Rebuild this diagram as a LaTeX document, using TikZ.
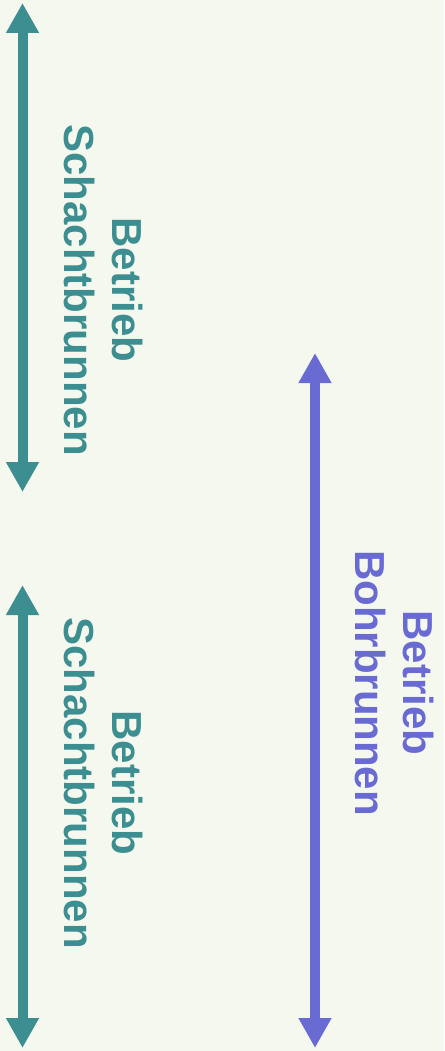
\documentclass[tikz,border=0pt]{standalone}
\usepackage{fontspec}
\setmainfont{Liberation Sans}
\usetikzlibrary{arrows.meta}
\definecolor{bgc}{RGB}{245,248,238}
\definecolor{tealc}{RGB}{61,142,145}
\definecolor{purplec}{RGB}{106,107,210}
\tikzset{
  dblarrow/.style={line width=10pt, {Triangle[length=30pt,width=31pt]}-{Triangle[length=30pt,width=31pt]}},
  vlabel/.style={rotate=-90, align=center, inner sep=0pt, font=\fontsize{42}{48}\selectfont\bfseries}
}
\begin{document}
\begin{tikzpicture}[x=1pt,y=-1pt]
\fill[bgc] (0,0) rectangle (444,1051);
\useasboundingbox (0,0) rectangle (444,1051);
\coordinate (t1top) at (22.5,3);
\coordinate (t1bot) at (22.5,492);
\coordinate (t2top) at (22.5,585);
\coordinate (t2bot) at (22.5,1048);
\coordinate (p1top) at (315,353);
\coordinate (p1bot) at (315,1048);
\draw[dblarrow, tealc] (t1top) -- (t1bot);
\draw[dblarrow, tealc] (t2top) -- (t2bot);
\draw[dblarrow, purplec] (p1top) -- (p1bot);
\node[vlabel, text=tealc] (l1) at (103.5,290) {Betrieb\\Schachtbrunnen};
\node[vlabel, text=tealc] (l2) at (103.5,783) {Betrieb\\Schachtbrunnen};
\node[vlabel, text=purplec] (l3) at (395,683) {Betrieb\\Bohrbrunnen};
\end{tikzpicture}
\end{document}
